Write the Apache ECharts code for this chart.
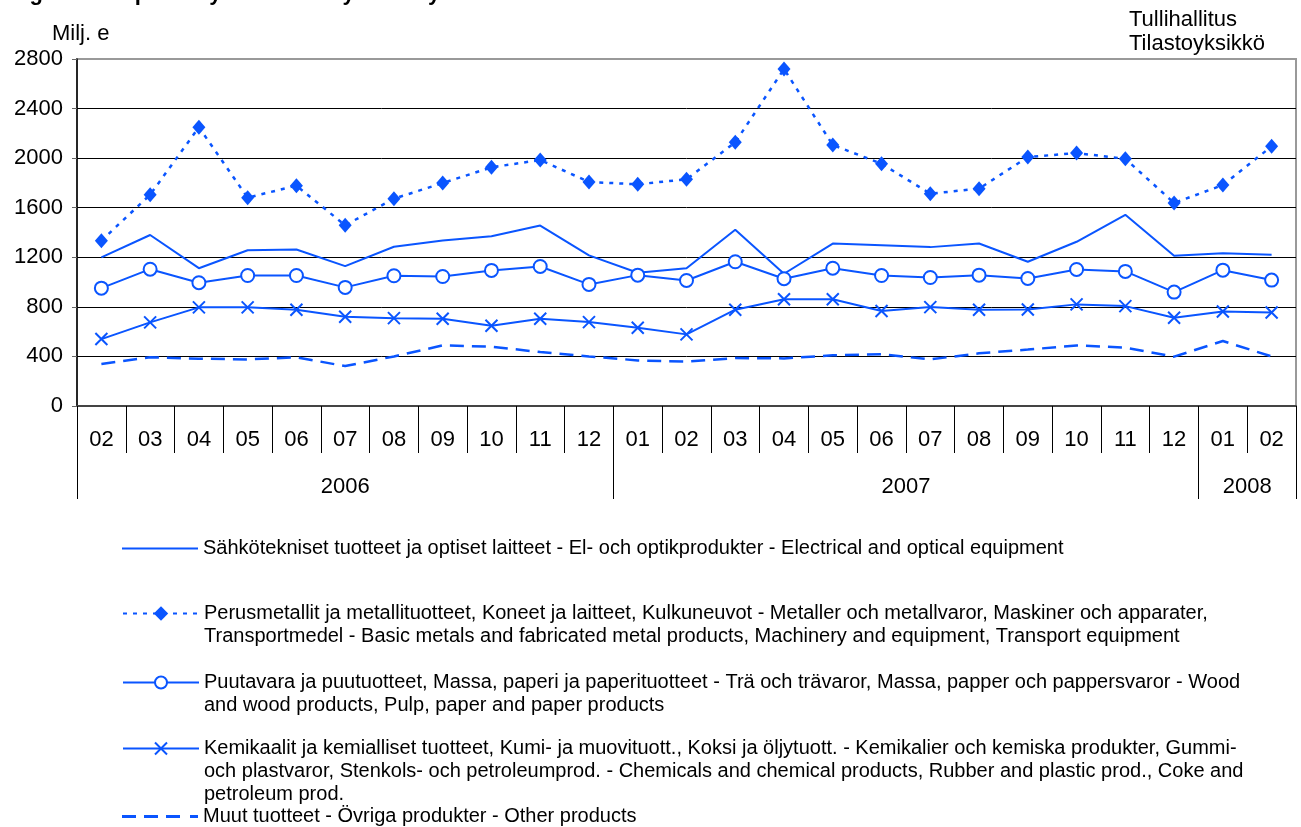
<!DOCTYPE html>
<html>
<head>
<meta charset="utf-8">
<script src="https://cdn.jsdelivr.net/npm/echarts@6/dist/echarts.min.js"></script>
<style>
  html, body { margin: 0; padding: 0; background: #fff; }
  #main { width: 1301px; height: 827px; }
</style>
</head>
<body>
<div id="main"></div>
<script>
// months 2006-02 .. 2008-02
var months = ['02','03','04','05','06','07','08','09','10','11','12',
              '01','02','03','04','05','06','07','08','09','10','11','12',
              '01','02'];
var years = ['2006', '2007', '2008'];
var monthsPerYear = [11, 12, 2];

var electrical = [1200, 1380, 1112, 1257, 1263, 1129, 1285, 1336, 1370, 1456, 1215,
                  1075, 1112, 1422, 1067, 1311, 1298, 1282, 1311, 1164, 1325, 1543, 1212,
                  1233, 1220];
var metals = [1334, 1705, 2249, 1681, 1778, 1458, 1673, 1799, 1926, 1985, 1808,
              1789, 1829, 2128, 2719, 2106, 1955, 1713, 1754, 2009, 2041, 1995, 1638,
              1783, 2095];
var wood = [951, 1104, 995, 1053, 1053, 957, 1051, 1045, 1094, 1126, 981,
            1056, 1013, 1164, 1027, 1112, 1053, 1037, 1056, 1029, 1102, 1086, 919,
            1096, 1016];
var chemicals = [540, 675, 796, 796, 777, 720, 709, 704, 648, 704, 677,
                 632, 578, 777, 862, 862, 766, 798, 777, 779, 820, 806, 712,
                 763, 755];
var other = [339, 393, 382, 376, 393, 322, 400, 489, 479, 435, 400,
             368, 358, 387, 384, 409, 417, 376, 425, 455, 489, 471, 398,
             524, 400];

var names = [
  'Sähkötekniset tuotteet ja optiset laitteet - El- och optikprodukter - Electrical and optical equipment',
  'Perusmetallit ja metallituotteet, Koneet ja laitteet, Kulkuneuvot - Metaller och metallvaror, Maskiner och apparater,\nTransportmedel - Basic metals and fabricated metal products, Machinery and equipment, Transport equipment',
  'Puutavara ja puutuotteet, Massa, paperi ja paperituotteet - Trä och trävaror, Massa, papper och pappersvaror - Wood\nand wood products, Pulp, paper and paper products',
  'Kemikaalit ja kemialliset tuotteet, Kumi- ja muovituott., Koksi ja öljytuott. - Kemikalier och kemiska produkter, Gummi-\noch plastvaror, Stenkols- och petroleumprod. - Chemicals and chemical products, Rubber and plastic prod., Coke and\npetroleum prod.',
  'Muut tuotteet - Övriga produkter - Other products'
];

var FONT = "'Liberation Sans', Arial, sans-serif";
var BLUE = '#0a55ff';

// year axis: half-month slots, labels in the middle of each year, ticks at year borders
var yearSlots = [];
var yearLabelIdx = [];
var yearTickIdx = [0];
var pos = 0;
for (var i = 0; i < years.length; i++) {
  yearLabelIdx.push(pos + monthsPerYear[i]);
  pos += monthsPerYear[i] * 2;
  yearTickIdx.push(pos);
}
for (var j = 0; j <= pos; j++) {
  var k = yearLabelIdx.indexOf(j);
  yearSlots.push(k >= 0 ? years[k] : ' ' + j);
}

var myChart = echarts.init(document.getElementById('main'));

// one legend per entry, icon lined up with the first text line
function legendFor (idx, top, extra) {
  var lines = names[idx].split('\n').length;
  var lg = {
    data: [names[idx]],
    left: 122,
    top: top,
    padding: 0,
    itemWidth: 76,
    itemHeight: 15,
    selectedMode: false,
    formatter: function (n) { return new Array(lines).join('\n') + n; },
    textStyle: { fontFamily: FONT, fontSize: 20, color: '#000', lineHeight: 23 }
  };
  for (var p in extra) lg[p] = extra[p];
  return lg;
}

var option = {
  animation: false,
  backgroundColor: '#fff',
  grid: {
    left: 77,
    right: 5,
    top: 59,
    bottom: 421,
    show: true,
    borderColor: '#999',
    borderWidth: 2
  },
  graphic: [
    { type: 'text', left: 10, top: -17,
      style: { text: 'Figure 2. Exports by Products by Activity', font: 'bold 22px ' + FONT, fill: '#000' } },
    { type: 'text', left: 52, top: 23,
      style: { text: 'Milj. e', font: '22px ' + FONT, fill: '#000' } },
    { type: 'text', left: 1129, top: 8,
      style: { text: 'Tullihallitus\nTilastoyksikkö', font: '22px ' + FONT, fill: '#000', lineHeight: 24 } }
  ],
  legend: [
    legendFor(0, 537, { icon: 'rect', itemHeight: 2, itemStyle: { color: BLUE } }),
    legendFor(1, 579, { itemHeight: 18 }),
    legendFor(2, 648, {}),
    legendFor(3, 691, {}),
    legendFor(4, 805, {
      icon: 'path://M0,0h14v3h-14z M22,0h14v3h-14z M44,0h14v3h-14z M68,0h8v3h-8z',
      itemHeight: 3, itemStyle: { color: BLUE }
    })
  ],
  xAxis: [
    {
      type: 'category',
      data: months,
      boundaryGap: true,
      axisLine: { lineStyle: { color: '#444', width: 2 } },
      axisTick: { show: true, interval: 0, length: 47, lineStyle: { color: '#000', width: 1 } },
      axisLabel: { interval: 0, margin: 23, fontSize: 22, color: '#000', fontFamily: FONT },
      splitLine: { show: false }
    },
    {
      type: 'category',
      data: yearSlots,
      boundaryGap: false,
      position: 'bottom',
      axisLine: { show: false },
      axisTick: {
        show: true,
        interval: function (index) { return yearTickIdx.indexOf(index) >= 0; },
        length: 93,
        lineStyle: { color: '#000', width: 1 }
      },
      axisLabel: {
        interval: function (index) { return yearLabelIdx.indexOf(index) >= 0; },
        margin: 70, fontSize: 22, color: '#000', fontFamily: FONT
      },
      splitLine: { show: false }
    }
  ],
  yAxis: {
    type: 'value',
    min: 0,
    max: 2800,
    interval: 400,
    axisLine: { show: true, lineStyle: { color: '#000', width: 1.5 } },
    axisTick: { show: true, length: 5, lineStyle: { color: '#666' } },
    axisLabel: {
      fontSize: 22, color: '#000', fontFamily: FONT, margin: 14,
      formatter: function (v) { return String(v); }
    },
    splitLine: { lineStyle: { color: ['#000', '#000', '#000', '#000', '#000', '#000', '#000', '#999'], width: 1 } }
  },
  series: [
    {
      name: names[0], type: 'line', data: electrical,
      symbol: 'none', color: BLUE,
      lineStyle: { color: BLUE, width: 2 }
    },
    {
      name: names[1], type: 'line', data: metals,
      symbol: 'diamond', symbolSize: [13, 15], color: BLUE,
      itemStyle: { color: BLUE },
      lineStyle: { color: BLUE, width: 2.5, type: [4, 6] }
    },
    {
      name: names[2], type: 'line', data: wood,
      symbol: 'emptyCircle', symbolSize: 13, color: BLUE,
      itemStyle: { color: BLUE, borderWidth: 2 },
      lineStyle: { color: BLUE, width: 2 }
    },
    {
      name: names[3], type: 'line', data: chemicals,
      symbol: 'path://M0,0L10,10M10,0L0,10', symbolSize: 12, color: BLUE,
      itemStyle: { color: 'none', borderColor: BLUE, borderWidth: 2 },
      lineStyle: { color: BLUE, width: 2 }
    },
    {
      name: names[4], type: 'line', data: other,
      symbol: 'none', color: BLUE,
      lineStyle: { color: BLUE, width: 2.5, type: [14, 8] }
    }
  ]
};

myChart.setOption(option);
</script>
</body>
</html>
